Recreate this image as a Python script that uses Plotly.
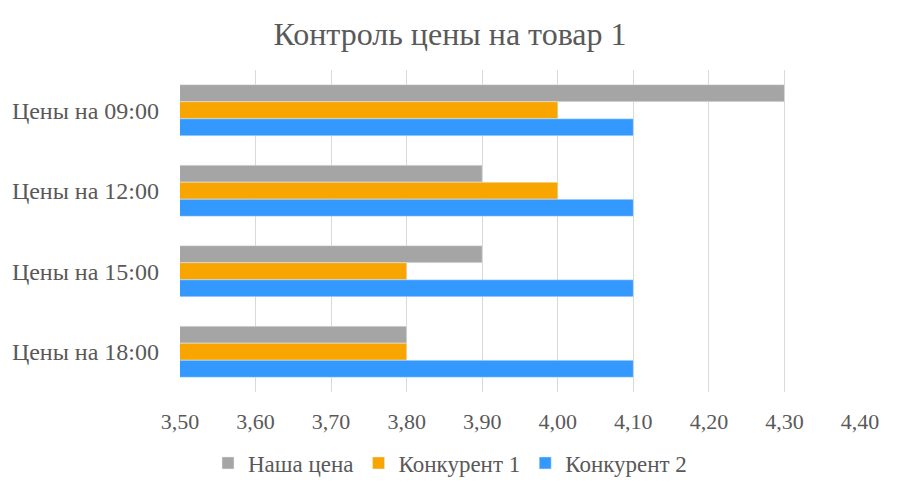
import plotly.graph_objects as go

categories = ["Цены на 09:00", "Цены на 12:00", "Цены на 15:00", "Цены на 18:00"]
our_price = [4.30, 3.90, 3.90, 3.80]
competitor_1 = [4.00, 4.00, 3.80, 3.80]
competitor_2 = [4.10, 4.10, 4.10, 4.10]
x_ticks = [3.5, 3.6, 3.7, 3.8, 3.9, 4.0, 4.1, 4.2, 4.3, 4.4]

font_family = "Liberation Serif, Times New Roman, serif"

fig = go.Figure()
fig.add_trace(go.Bar(y=categories, x=our_price, name="Наша цена",
                     orientation="h", marker_color="#a5a5a5"))
fig.add_trace(go.Bar(y=categories, x=competitor_1, name="Конкурент 1",
                     orientation="h", marker_color="#f9a500"))
fig.add_trace(go.Bar(y=categories, x=competitor_2, name="Конкурент 2",
                     orientation="h", marker_color="#3399ff"))

# page body has an 8px margin, so the figure is sized 884x476
fig.update_layout(
    width=884, height=476,
    barmode="group", bargap=0.365, bargroupgap=0,
    separators=", ",
    paper_bgcolor="white", plot_bgcolor="white",
    margin=dict(l=172, r=32, t=62, b=92, autoexpand=False),
    font=dict(family=font_family, color="#595959", size=22),
    title=dict(text="Контроль цены на товар 1", x=0.5, xanchor="center",
               xref="container", y=1 - 26 / 476, yanchor="middle",
               font=dict(size=32, color="#595959", family=font_family)),
    legend=dict(orientation="h", x=(442 - 172) / 680, xanchor="center",
                y=(384 - 455) / 322, yanchor="middle",
                font=dict(size=23, color="#595959"),
                traceorder="normal"),
)
fig.update_xaxes(range=[3.5, 4.4], tickvals=x_ticks, tickformat=".2f",
                 showgrid=True, gridcolor="#d9d9d9", gridwidth=1,
                 zeroline=False, showline=False, ticks="", ticklen=0,
                 tickangle=0, ticklabelstandoff=14,
                 tickfont=dict(size=22, color="#595959"))
fig.update_yaxes(autorange="reversed", showgrid=False, showline=False,
                 ticks="", ticklabelstandoff=20,
                 tickfont=dict(size=24, color="#595959"))

fig.write_html("out.html")
